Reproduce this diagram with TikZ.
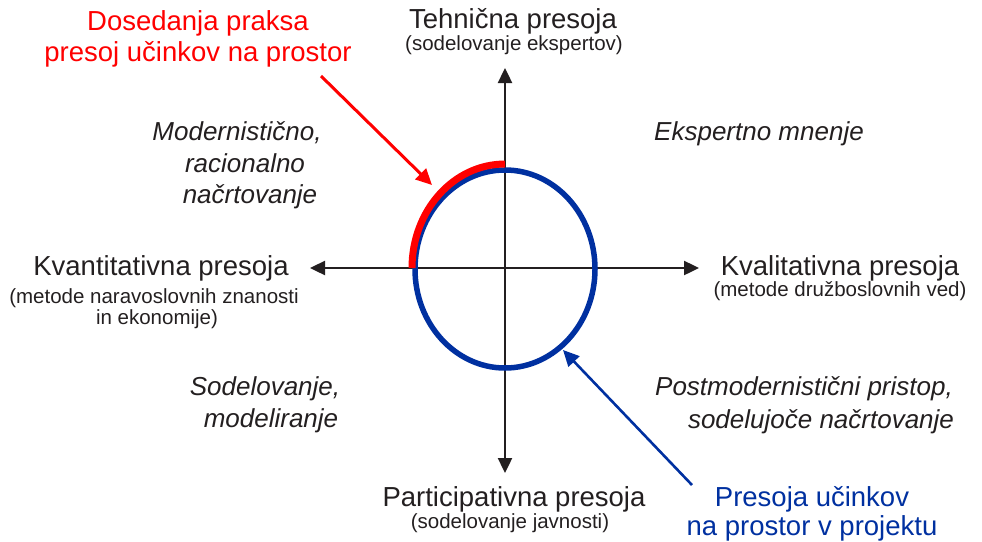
\documentclass[tikz,border=0pt]{standalone}
\usepackage{fontspec}
\setmainfont{Liberation Sans}
\usetikzlibrary{arrows.meta,shapes.geometric}
\definecolor{tblack}{RGB}{35,31,32}
\definecolor{rred}{RGB}{255,0,0}
\definecolor{bblue}{RGB}{0,48,160}
\begin{document}
\begin{tikzpicture}[x=1pt,y=-1pt,
  txt/.style={inner sep=0pt, anchor=base, text=tblack},
  big/.style={txt, font=\fontsize{27.5}{30}\selectfont},
  small/.style={txt, font=\fontsize{20.5}{23}\selectfont},
  ital/.style={txt, font=\fontsize{26}{30}\selectfont\itshape},
  redtxt/.style={big, text=rred},
  bluetxt/.style={big, text=bblue},
  axis/.style={tblack, line width=2.4pt, {Triangle[length=15pt,width=14pt]}-{Triangle[length=15pt,width=14pt]}},
  pointer/.style={line width=3pt, -{Triangle[length=16pt,width=15pt]}}
]
\useasboundingbox (0,0) rectangle (982,541);

% axes
\coordinate (top) at (505,68);
\coordinate (bot) at (505,473);
\coordinate (lft) at (310,268);
\coordinate (rgt) at (699,268);
\draw[axis] (bot) -- (top);
\draw[axis] (lft) -- (rgt);

% blue ellipse
\node[draw=bblue, line width=5.5pt, ellipse, inner sep=0pt, minimum width=180pt, minimum height=198pt] (ring) at (505,269) {};

% red arc
\coordinate (arcstart) at (412,268);
\draw[rred, line width=7pt] (arcstart) arc[start angle=180, end angle=90, x radius=93pt, y radius=104pt];

% pointers
\coordinate (rfrom) at (321,76);
\coordinate (rto) at (432,185);
\draw[pointer, rred] (rfrom) -- (rto);
\coordinate (bfrom) at (692,485);
\coordinate (bto) at (563,350);
\draw[pointer, bblue, line width=2.6pt] (bfrom) -- (bto);

% axis labels
\node[big] (tech) at (513,28) {Tehnična presoja};
\node[small] (techs) at (514,50) {(sodelovanje ekspertov)};
\node[big] (kvan) at (161,275) {Kvantitativna presoja};
\node[small] (kvans1) at (154,303) {(metode naravoslovnih znanosti};
\node[small] (kvans2) at (157,324) {in ekonomije)};
\node[big] (kval) at (840,275) {Kvalitativna presoja};
\node[small] (kvals) at (840,296) {(metode družboslovnih ved)};
\node[big] (part) at (514,506) {Participativna presoja};
\node[small] (parts) at (510,528) {(sodelovanje javnosti)};

% red and blue labels
\node[redtxt] (red1) at (198,30) {Dosedanja praksa};
\node[redtxt] (red2) at (198,61) {presoj učinkov na prostor};
\node[bluetxt] (blue1) at (812,506) {Presoja učinkov};
\node[bluetxt] (blue2) at (812,535) {na prostor v projektu};

% quadrant labels
\node[ital] (q1a) at (237,140) {Modernistično,};
\node[ital] (q1b) at (245,172) {racionalno};
\node[ital] (q1c) at (250,203) {načrtovanje};
\node[ital] (q2) at (759,140) {Ekspertno mnenje};
\node[ital] (q3a) at (265,395) {Sodelovanje,};
\node[ital] (q3b) at (271,427) {modeliranje};
\node[ital] (q4a) at (804,395) {Postmodernistični pristop,};
\node[ital] (q4b) at (821,428) {sodelujoče načrtovanje};
\end{tikzpicture}
\end{document}
